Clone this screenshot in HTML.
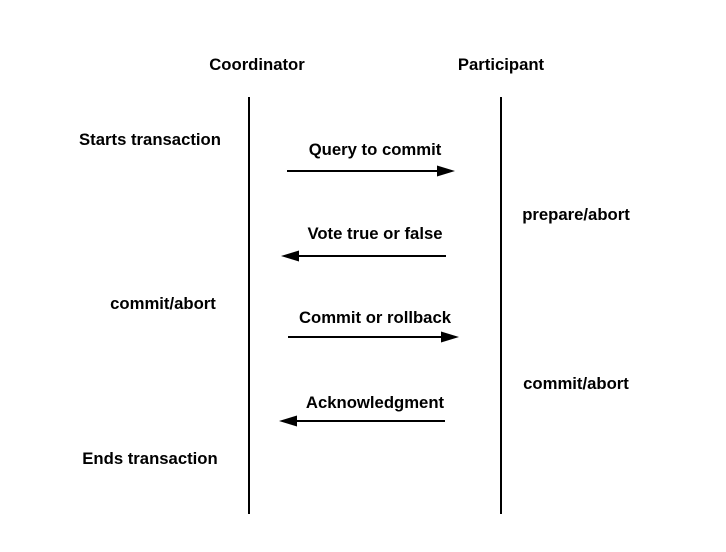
<!DOCTYPE html>
<html><head><meta charset="utf-8"><style>html,body{margin:0;padding:0;background:#fff}svg{display:block}</style></head>
<body>
<svg width="726" height="552" xmlns="http://www.w3.org/2000/svg" font-family="Liberation Sans, sans-serif" font-weight="bold" font-size="16.7" text-anchor="middle" fill="#000">
<rect width="726" height="552" fill="#fff"/>
<text x="257" y="70">Coordinator</text>
<text x="501" y="70">Participant</text>
<line x1="249" y1="97" x2="249" y2="514" stroke="#000" stroke-width="2"/>
<line x1="501" y1="97" x2="501" y2="514" stroke="#000" stroke-width="2"/>
<text x="150" y="145">Starts transaction</text>
<text x="375" y="155">Query to commit</text>
<text x="576" y="220">prepare/abort</text>
<text x="375" y="239">Vote true or false</text>
<text x="163" y="309">commit/abort</text>
<text x="375" y="323">Commit or rollback</text>
<text x="576" y="389">commit/abort</text>
<text x="375" y="408">Acknowledgment</text>
<text x="150" y="464">Ends transaction</text>
<g stroke="#000" stroke-width="2">
<line x1="287" y1="171" x2="440" y2="171"/>
<line x1="296" y1="256" x2="446" y2="256"/>
<line x1="288" y1="337" x2="444" y2="337"/>
<line x1="294" y1="421" x2="445" y2="421"/>
</g>
<polygon points="455,171 437,165.5 437,176.5"/>
<polygon points="281,256 299,250.5 299,261.5"/>
<polygon points="459,337 441,331.5 441,342.5"/>
<polygon points="279,421 297,415.5 297,426.5"/>
</svg>
</body></html>
